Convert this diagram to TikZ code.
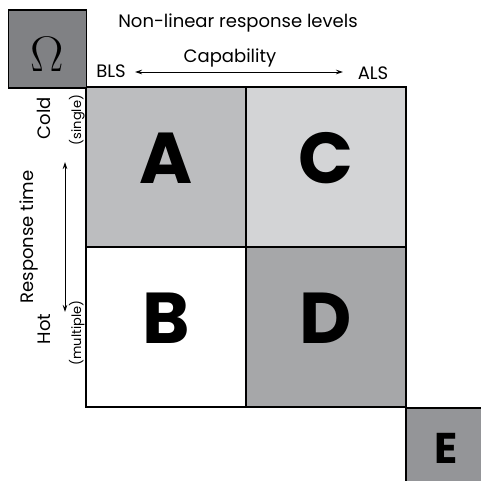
\RequirePackage{fix-cm}
\documentclass[tikz,border=0pt]{standalone}
\usepackage{fontspec}
\setmainfont{Poppins}
\newfontfamily\heavyfont{Poppins}
\usepackage{tikz}
\usetikzlibrary{arrows.meta}
\definecolor{cellA}{HTML}{BCBDBF}
\definecolor{cellC}{HTML}{D3D4D6}
\definecolor{cellD}{HTML}{A6A7A9}
\definecolor{omegabox}{HTML}{808184}
\definecolor{ebox}{HTML}{949598}

\begin{document}
\begin{tikzpicture}[x=1pt,y=-1pt]
    \tikzstyle{cell}=[draw, line width=1.2pt, shape=rectangle, minimum size=160pt, inner sep=0pt]
    \tikzstyle{corner}=[draw, line width=1.2pt, shape=rectangle, minimum size=78pt, inner sep=0pt]
    \tikzstyle{letter}=[inner sep=0pt, font=\heavyfont\bfseries\fontsize{72}{72}\selectfont]
    \tikzstyle{caption}=[inner sep=1pt, font=\fontsize{18}{18}\selectfont]
    \tikzstyle{small caption}=[inner sep=1pt, font=\fontsize{13}{13}\selectfont]
    \tikzstyle{arrow}=[{Stealth[length=7pt,width=4.5pt]}-{Stealth[length=7pt,width=4.5pt]}, line width=0.8pt]
    \useasboundingbox (0,0) rectangle (480,481);

    % the four quadrants
    \node [style=cell, fill=cellA] (A) at (166,167) {};
    \node [style=cell, fill=cellC] (C) at (326,167) {};
    \node [style=cell, fill=white] (B) at (166,327) {};
    \node [style=cell, fill=cellD] (D) at (326,327) {};
    \node [style=letter] at ([yshift=8.5pt]A.center) {A};
    \node [style=letter] at ([yshift=8.5pt]C.center) {C};
    \node [style=letter] at ([yshift=8.5pt]B.center) {B};
    \node [style=letter] at ([yshift=8.5pt]D.center) {D};

    % corner boxes
    \node [style=corner, fill=omegabox] (omega) at (47.5,49) {};
    \node [inner sep=0pt, font=\fontsize{50}{50}\selectfont] at ([yshift=-5pt]omega.center) {$\Omega$};
    \node [style=corner, fill=ebox, minimum size=80pt] (E) at (446,448) {};
    \node [style=letter, font=\heavyfont\bfseries\fontsize{43}{43}\selectfont] at (E.center) {E};

    % capability axis
    \node [style=caption, anchor=base] at (238,28) {Non-linear response levels};
    \node [style=caption, anchor=base] at (230,63) {Capability};
    \node [style=caption, anchor=base] (bls) at (111,78) {BLS};
    \node [style=caption, anchor=base] (als) at (373,80) {ALS};
    \coordinate (left) at (135,72);
    \coordinate (right) at (343,72);
    \draw [style=arrow] (left) -- (right);

    % response time axis
    \node [style=caption, rotate=90, anchor=base] at (33,237) {Response time};
    \node [style=caption, rotate=90, anchor=base] (cold) at (50,118) {Cold};
    \node [style=small caption, rotate=90, anchor=base] at (81,120) {(single)};
    \node [style=caption, rotate=90, anchor=base] (hot) at (50,329) {Hot};
    \node [style=small caption, rotate=90, anchor=base] at (81,333) {(multiple)};
    \coordinate (top) at (65,162);
    \coordinate (bottom) at (65,312);
    \draw [style=arrow] (top) -- (bottom);
\end{tikzpicture}
\end{document}
